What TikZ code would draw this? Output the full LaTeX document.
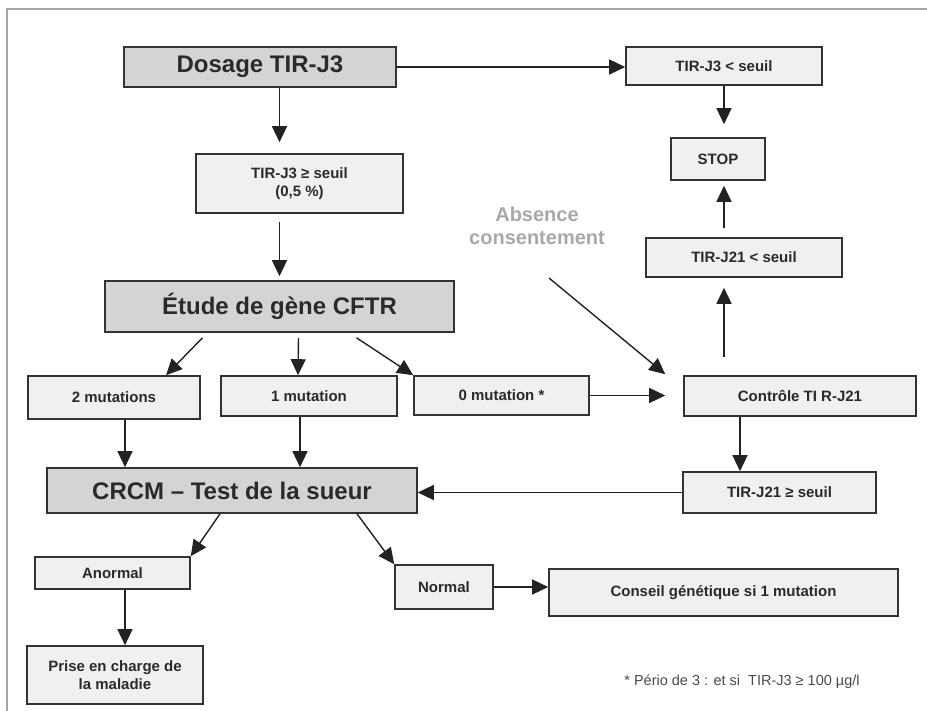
\documentclass[tikz,border=0pt]{standalone}
\usepackage{fontspec}
\setmainfont{Liberation Sans}
\usetikzlibrary{arrows.meta,calc}
\definecolor{boxgray}{HTML}{D4D4D4}
\definecolor{boxlight}{HTML}{F0F0F0}
\definecolor{edgec}{HTML}{333333}
\definecolor{txt}{HTML}{2A2A2A}
\definecolor{framegray}{HTML}{A6A6A6}
\definecolor{softgray}{HTML}{A8A8A8}
\definecolor{arrc}{HTML}{222222}
\begin{document}
\begin{tikzpicture}[x=1pt,y=-1pt,
  box/.style={draw=edgec, line width=1.6pt, fill=boxlight, inner sep=0pt, text=txt,
    font=\bfseries\fontsize{15}{18}\selectfont, align=center},
  bigbox/.style={box, fill=boxgray, font=\bfseries\fontsize{24}{28}\selectfont},
  arr/.style={draw=arrc, line width=1.4pt, -{Triangle[length=16pt,width=15pt]}}]
\useasboundingbox (0,0) rectangle (927,711);
\draw[framegray, line width=2pt] (7,711) -- (7,9) -- (927,9);

% nodes
\node[bigbox, minimum width=272pt, minimum height=40pt] (dosage) at (260,67) {Dosage TIR-J3};
\node[box, minimum width=196pt, minimum height=38pt] (tirlow) at (724,66) {TIR-J3 < seuil};
\node[box, minimum width=94pt, minimum height=42pt] (stop) at (718,159) {STOP};
\node[box, minimum width=207pt, minimum height=59pt] (tirhigh) at (299.5,183.5) {TIR-J3 ≥ seuil\\(0,5 \%)};
\node[bigbox, minimum width=349pt, minimum height=51pt] (etude) at (279.5,306.5) {Étude de gène CFTR};
\node[box, minimum width=196pt, minimum height=39pt] (j21low) at (744,257.5) {TIR-J21 < seuil};
\node[box, minimum width=232pt, minimum height=40pt] (controle) at (800,396) {Contrôle TI R-J21};
\node[box, minimum width=175pt, minimum height=39pt] (zero) at (501.5,395.5) {0 mutation *};
\node[box, minimum width=172pt, minimum height=43pt] (two) at (114,397.5) {2 mutations};
\node[box, minimum width=176pt, minimum height=40pt] (one) at (309,396) {1 mutation};
\node[bigbox, minimum width=370pt, minimum height=45pt] (crcm) at (232,490.5) {CRCM – Test de la sueur};
\node[box, minimum width=193pt, minimum height=41pt] (j21high) at (779.5,492.5) {TIR-J21 ≥ seuil};
\node[box, minimum width=155pt, minimum height=32pt] (anormal) at (112.5,573) {Anormal};
\node[box, minimum width=176pt, minimum height=58pt] (prise) at (115,675) {Prise en charge de\\la maladie};
\node[box, minimum width=98pt, minimum height=44pt] (normal) at (444,587) {Normal};
\node[box, minimum width=349pt, minimum height=47pt] (conseil) at (723.5,592.5) {Conseil génétique si 1 mutation};
\node[font=\bfseries\fontsize{20}{23}\selectfont, text=softgray, align=center, inner sep=0pt] (absence) at (537,226) {Absence\\consentement};
\node[font=\fontsize{14.5}{17}\selectfont, text=txt!85, inner sep=0pt] (note) at (742,682) {* Pério de 3 : et si\ \ TIR-J3 ≥ 100 µg/l};

% helper coordinates
\coordinate (twofoot) at ($(two.south)+(11,0)$);
\coordinate (onefoot) at ($(one.south)+(-9,0)$);
\coordinate (ctrlfoot) at ($(controle.south)+(-60,0)$);
\coordinate (anofoot) at ($(anormal.south)+(12.5,0)$);
\coordinate (absfrom) at (549,278);

% connectors
\draw[arr] (dosage.east) -- (dosage.east -| tirlow.west);
\draw[arr, shorten >=13pt] (tirlow.south) -- (tirlow.south |- stop.north);
\draw[arr, shorten <=9pt, shorten >=5pt] (tirlow.south |- j21low.north) -- (tirlow.south |- stop.south);
\draw[arr, shorten <=18pt, shorten >=10pt] (tirlow.south |- controle.north) -- (tirlow.south |- j21low.south);
\draw[arr, shorten >=11pt] (etude.north |- dosage.south) -- (etude.north |- tirhigh.north);
\draw[arr, shorten <=8pt, shorten >=4pt] (etude.north |- tirhigh.south) -- (etude.north);
\draw[arr] ($(etude.south)+(-77,5)$) -- ($(two.north)+(52,0)$);
\draw[arr] ($(etude.south)+(19,5)$) -- ($(one.north)+(-11,0)$);
\draw[arr] ($(etude.south)+(77,5)$) -- (zero.north west);
\draw[arr, shorten >=18pt] (zero.east) -- (zero.east -| controle.west);
\draw[arr] (absfrom) -- ($(controle.north west)+(-18,-1)$);
\draw[arr] (twofoot) -- (twofoot |- crcm.north);
\draw[arr] (onefoot) -- (onefoot |- crcm.north);
\draw[arr] (ctrlfoot) -- (ctrlfoot |- j21high.north);
\draw[arr] (j21high.west) -- (j21high.west -| crcm.east);
\draw[arr] ($(crcm.south)+(-12,0)$) -- (anormal.north east);
\draw[arr] (anofoot) -- (anofoot |- prise.north);
\draw[arr] ($(crcm.south)+(125,0)$) -- (normal.north west);
\draw[arr] (normal.east) -- (normal.east -| conseil.west);
\end{tikzpicture}
\end{document}
